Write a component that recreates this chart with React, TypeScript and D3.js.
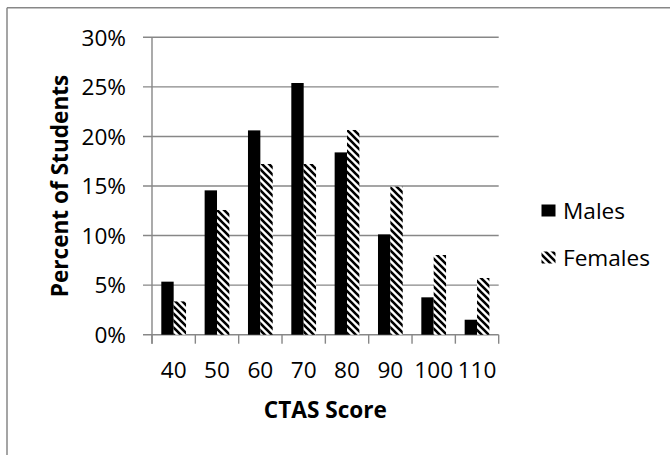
import React from "react";
import * as d3 from "d3";

const categories = ["40", "50", "60", "70", "80", "90", "100", "110"];
const males = [5.35, 14.56, 20.61, 25.39, 18.39, 10.12, 3.77, 1.51];
const females = [3.36, 12.58, 17.22, 17.22, 20.65, 14.93, 8.04, 5.72];
const seriesNames = ["Males", "Females"];
const yTicks = [0, 5, 10, 15, 20, 25, 30];

const W = 670;
const H = 455;
const FONT = "'Open Sans', 'Noto Sans', sans-serif";
const GRID = "#878787";

export default function App() {
  const left = 152;
  const right = 498.7;
  const top = 37.3;
  const bottom = 334.7;

  const y = d3.scaleLinear().domain([0, 30]).range([bottom, top]);
  const x0 = d3.scaleBand<string>().domain(categories).range([left, right]).padding(0);
  const cw = x0.bandwidth();
  const gap = 9.3;
  const x1 = d3.scaleBand<string>().domain(seriesNames).range([gap, cw - gap]).padding(0);
  const bw = x1.bandwidth();

  const data = [males, females];
  const fills = ["#000", "url(#stripes)"];

  return (
    <svg
      width={W}
      height={H}
      style={{ position: "absolute", left: 0, top: 0, background: "#fff" }}
      xmlns="http://www.w3.org/2000/svg"
    >
      <defs>
        <pattern id="stripes" patternUnits="userSpaceOnUse" width={7} height={7}>
          <rect width={7} height={7} fill="#fff" />
          <path
            d="M-1,-1 L8,8 M-1,6 L1,8 M6,-1 L8,1"
            stroke="#000"
            strokeWidth={2.6}
          />
        </pattern>
      </defs>
      <rect x={0} y={0} width={W} height={H} fill="#fff" />
      {/* outer border (top and left visible) */}
      <line x1={7} y1={7.7} x2={W} y2={7.7} stroke={GRID} strokeWidth={1.5} />
      <line x1={7} y1={7.7} x2={7} y2={H} stroke={GRID} strokeWidth={1.5} />

      {/* gridlines + y ticks */}
      {yTicks.map((t) => (
        <g key={t}>
          <line x1={left - 9} x2={right} y1={y(t)} y2={y(t)} stroke={GRID} strokeWidth={1.4} />
          <text
            x={126}
            y={y(t) + 8.3}
            textAnchor="end"
            fontFamily={FONT}
            fontSize={22.6}
            fill="#000"
          >
            {t + "%"}
          </text>
        </g>
      ))}

      {/* bars */}
      {categories.map((c, i) => (
        <g key={c}>
          {seriesNames.map((s, k) => (
            <rect
              key={s}
              x={(x0(c) as number) + (x1(s) as number)}
              y={y(data[k][i])}
              width={bw}
              height={y(0) - y(data[k][i])}
              fill={fills[k]}
            />
          ))}
        </g>
      ))}

      {/* y axis */}
      <line x1={left} x2={left} y1={top} y2={bottom + 9} stroke={GRID} strokeWidth={1.4} />
      {/* x ticks */}
      {categories.concat(["end"]).map((c, i) => {
        const xx = left + i * cw;
        return (
          <line key={"t" + i} x1={xx} x2={xx} y1={bottom} y2={bottom + 9} stroke={GRID} strokeWidth={1.4} />
        );
      })}
      {categories.map((c) => (
        <text
          key={"l" + c}
          x={(x0(c) as number) + cw / 2}
          y={378}
          textAnchor="middle"
          fontFamily={FONT}
          fontSize={22.6}
          fill="#000"
        >
          {c}
        </text>
      ))}

      {/* axis titles */}
      <text
        x={(left + right) / 2}
        y={418}
        textAnchor="middle"
        fontFamily={FONT}
        fontSize={22.6}
        fontWeight="bold"
        fill="#000"
      >
        CTAS Score
      </text>
      <text
        transform={`translate(67.5, ${(top + bottom) / 2}) rotate(-90)`}
        textAnchor="middle"
        fontFamily={FONT}
        fontSize={22.6}
        fontWeight="bold"
        fill="#000"
      >
        Percent of Students
      </text>

      {/* legend */}
      {seriesNames.map((s, k) => {
        const cy = k === 0 ? 210.5 : 257.5;
        return (
          <g key={"lg" + s}>
            <rect x={541.5} y={cy - 6} width={14} height={12} fill={fills[k]} />
            <text x={563} y={cy + 8} fontFamily={FONT} fontSize={22.6} fill="#000">
              {s}
            </text>
          </g>
        );
      })}
    </svg>
  );
}
